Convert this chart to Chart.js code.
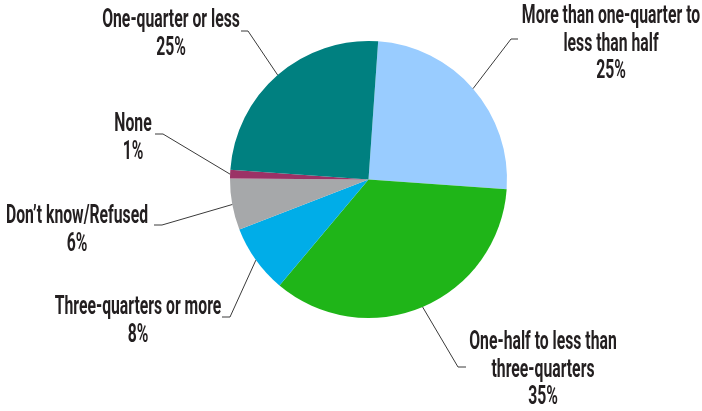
<!DOCTYPE html>
<html>
<head>
<meta charset="utf-8">
<script src="https://cdn.jsdelivr.net/npm/chart.js@4"></script>
<style>
  html, body { margin: 0; padding: 0; background: #fff; }
  canvas { display: block; }
</style>
</head>
<body>
<canvas id="pieChart" width="702" height="411"></canvas>
<script>
const categories = [
    "More than one-quarter to less than half",
    "One-half to less than three-quarters",
    "Three-quarters or more",
    "Don’t know/Refused",
    "None",
    "One-quarter or less"
];
const shares = [25, 35, 8, 6, 1, 25];
const sliceColors = ["#99ccff", "#1fb518", "#00ade8", "#a6a8aa", "#9b3266", "#008080"];

// how each category name is broken over lines
const labelLines = [
    ["More than one-quarter to", "less than half"],
    ["One-half to less than", "three-quarters"],
    ["Three-quarters or more"],
    ["Don’t know/Refused"],
    ["None"],
    ["One-quarter or less"]
];

// text block centre, first baseline, and leader elbow / end for each slice
const labelPlaces = [
    { cx: 611, top: 23,  elbow: [511, 39],  end: [518, 39] },
    { cx: 543, top: 349, elbow: [458, 367], end: [466, 367] },
    { cx: 138, top: 314, elbow: [230, 317], end: [222, 317] },
    { cx: 77,  top: 223, elbow: [162, 225], end: [154, 225] },
    { cx: 133, top: 131, elbow: [163, 134], end: [155, 134] },
    { cx: 171, top: 27,  elbow: [248, 31],  end: [241, 31] }
];

const LINE_H = 27.5;
const SQUEEZE = 0.63;

const calloutPlugin = {
    id: "callouts",
    afterDraw(chart) {
        const ctx = chart.ctx;
        const meta = chart.getDatasetMeta(0);
        meta.data.forEach((arc, i) => {
            const p = arc.getProps(["x", "y", "startAngle", "endAngle", "outerRadius"], true);
            const mid = (p.startAngle + p.endAngle) / 2;
            const ax = p.x + Math.cos(mid) * p.outerRadius;
            const ay = p.y + Math.sin(mid) * p.outerRadius;
            const place = labelPlaces[i];

            ctx.save();
            ctx.strokeStyle = "#3a3a3a";
            ctx.lineWidth = 1;
            ctx.beginPath();
            ctx.moveTo(ax, ay);
            ctx.lineTo(place.elbow[0], place.elbow[1]);
            ctx.lineTo(place.end[0], place.end[1]);
            ctx.stroke();

            const lines = labelLines[i].concat([shares[i] + "%"]);
            ctx.fillStyle = "#231f20";
            ctx.font = "bold 25px Roboto";
            ctx.textAlign = "center";
            ctx.textBaseline = "alphabetic";
            lines.forEach((txt, k) => {
                ctx.save();
                ctx.translate(place.cx, place.top + k * LINE_H);
                ctx.scale(SQUEEZE, 1);
                ctx.fillText(txt, 0, 0);
                ctx.restore();
            });
            ctx.restore();
        });
    }
};

new Chart(document.getElementById("pieChart"), {
    type: "pie",
    data: {
        labels: categories,
        datasets: [{
            data: shares,
            backgroundColor: sliceColors,
            borderWidth: 0
        }]
    },
    options: {
        responsive: false,
        animation: false,
        rotation: 4,
        layout: { padding: { left: 230, right: 195, top: 41, bottom: 93 } },
        plugins: {
            legend: { display: false },
            tooltip: { enabled: false }
        }
    },
    plugins: [calloutPlugin]
});
</script>
</body>
</html>
